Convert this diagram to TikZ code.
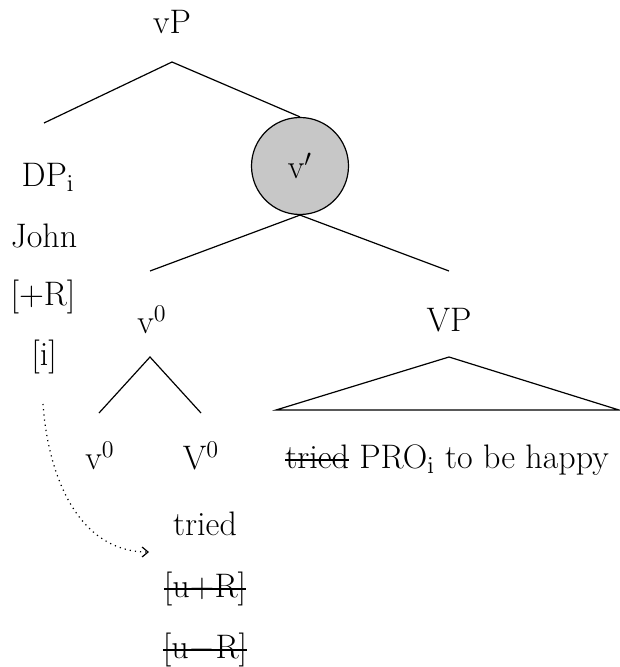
\documentclass[tikz,border=0pt]{standalone}
\usetikzlibrary{arrows.meta}
\newcommand\strk[1]{\setbox0\hbox{#1}\rlap{\raisebox{0.5ex}{\rule{\wd0}{1.2pt}}}\box0\relax}
\begin{document}
\begin{tikzpicture}[x=0.5pt,y=-0.5pt,
  lbl/.style={inner sep=0pt,font=\fontsize{17}{20}\selectfont},
  edge/.style={line width=0.6pt},
  bar/.style={draw,circle,fill=black!22,line width=0.6pt,minimum size=48.5pt,inner sep=0pt,font=\fontsize{17}{20}\selectfont}]
\useasboundingbox (0,0) rectangle (619,667);
% labels
\node[lbl] (vP) at (172,22) {vP};
\node[lbl] (DP) at (48,177) {DP$_{\mathrm{i}}$};
\node[lbl] (john) at (44,236) {John};
\node[lbl] (plusR) at (43,297) {[$+$R]};
\node[lbl] (idx) at (44,357) {[i]};
\node[bar] (vbar) at (300,166) {v$'$};
\node[lbl] (v0) at (152,320) {v$^0$};
\node[lbl] (VP) at (449,320) {VP};
\node[lbl] (v0a) at (100,456) {v$^0$};
\node[lbl] (V0) at (201,456) {V$^0$};
\node[lbl] (vpstr) at (447,460) {\strk{tried} PRO$_{\mathrm{i}}$ to be happy};
\node[lbl] (tried) at (205,524) {tried};
\node[lbl] (uplus) at (205,589) {\strk{[u$+$R]}};
\node[lbl] (uminus) at (205,650) {\strk{[u$-$R]}};
% branch points
\coordinate (a1) at (172,62);
\coordinate (dpT) at (44,123);
\coordinate (v0T) at (150,271);
\coordinate (VPT) at (449,271);
\coordinate (a2) at (150,357);
\coordinate (lL) at (99,413);
\coordinate (lR) at (201,413);
\coordinate (t1) at (449,357);
\coordinate (tL) at (276,410);
\coordinate (tR) at (619,410);
\coordinate (arrS) at (43,404);
\coordinate (arrE) at (149,552);
% edges
\draw[edge] (dpT) -- (a1) -- (vbar.north);
\draw[edge] (v0T) -- (vbar.south) -- (VPT);
\draw[edge] (lL) -- (a2) -- (lR);
\draw[edge] (tL) -- (t1) -- (tR) -- cycle;
\draw[dotted,line width=0.6pt,-{Straight Barb[length=3pt,width=5pt]}] (arrS) to[out=-86,in=180] (arrE);
\end{tikzpicture}
\end{document}
